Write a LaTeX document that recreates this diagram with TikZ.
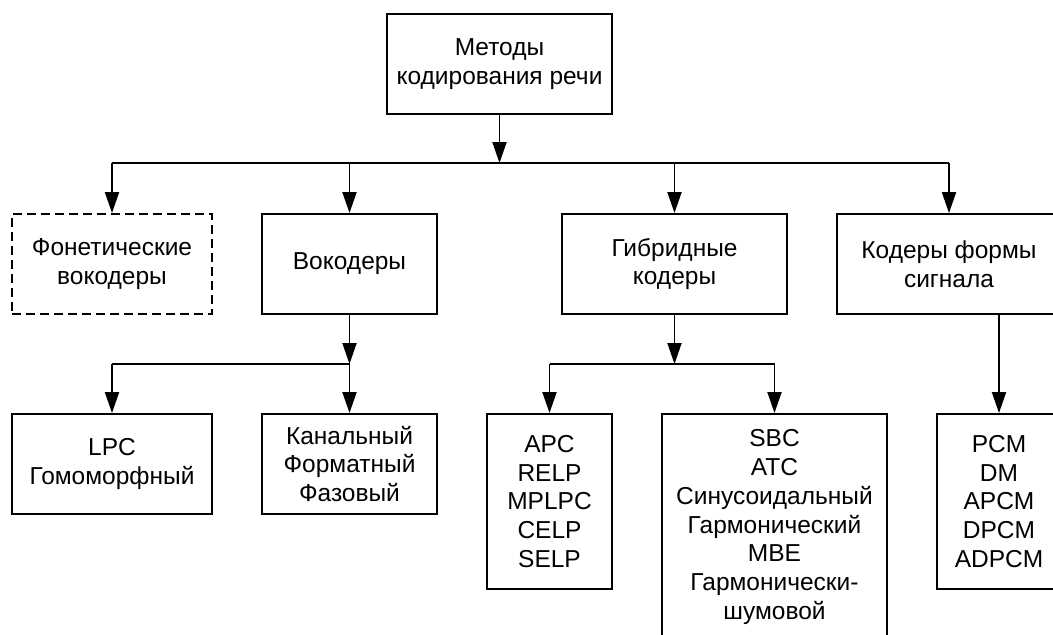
\documentclass[tikz,border=0pt]{standalone}
\usepackage{fontspec}
\setmainfont{Liberation Sans}
\usetikzlibrary{arrows.meta}
\tikzset{
  box/.style={draw, line width=1.9pt, inner sep=0pt, align=center,
    font=\fontsize{24.5}{28.8}\selectfont},
  dbox/.style={box, dash pattern=on 9pt off 5pt},
  line/.style={line width=1.9pt},
  arr/.style={line, -{Triangle[length=21pt,width=14pt]}}
}
\begin{document}
\begin{tikzpicture}[x=1pt,y=-1pt]
\useasboundingbox[fill=white] (0,0) rectangle (1053,635);
\node[box, minimum width=225, minimum height=100] (top) at (499.5,64) {Методы\\кодирования речи};
\node[dbox, minimum width=200, minimum height=100] (phon) at (112,264) {Фонетические\\вокодеры};
\node[box, minimum width=175, minimum height=100] (voc) at (349.5,264) {Вокодеры};
\node[box, minimum width=225, minimum height=100] (hyb) at (674.5,264) {Гибридные\\кодеры};
\node[box, minimum width=224, minimum height=100] (wav) at (949,264) {Кодеры формы\\сигнала};
\node[box, minimum width=200, minimum height=100] (lpc) at (112,464) {LPC\\Гомоморфный};
\node[box, minimum width=175, minimum height=100] (kan) at (349.5,464) {Канальный\\Форматный\\Фазовый};
\node[box, minimum width=125, minimum height=175] (apc) at (549.5,501.5) {APC\\RELP\\MPLPC\\CELP\\SELP};
\node[box, minimum width=225, minimum height=226] (sbc) at (774.5,527) {SBC\\ATC\\Синусоидальный\\Гармонический\\MBE\\Гармонически-\\шумовой};
\node[box, minimum width=124, minimum height=175] (pcm) at (999,501.5) {PCM\\DM\\APCM\\DPCM\\ADPCM};
\coordinate (b1) at (499.5,163);
\coordinate (b2) at (349.5,364);
\coordinate (b3) at (674.5,364);
% level 1
\draw[arr] (top) -- (b1);
\draw[line] (b1 -| phon) -- (b1 -| wav);
\draw[arr] (b1 -| phon) -- (phon);
\draw[arr] (b1 -| voc) -- (voc);
\draw[arr] (b1 -| hyb) -- (hyb);
\draw[arr] (b1 -| wav) -- (wav);
% vocoders
\draw[arr] (voc) -- (b2);
\draw[line] (lpc |- b2) -- (b2);
\draw[arr] (lpc |- b2) -- (lpc);
\draw[arr] (b2) -- (kan);
% hybrid
\draw[arr] (hyb) -- (b3);
\draw[line] (apc |- b3) -- (sbc |- b3);
\draw[arr] (apc |- b3) -- (apc);
\draw[arr] (sbc |- b3) -- (sbc);
% waveform
\draw[arr] (pcm |- wav.south) -- (pcm);
\end{tikzpicture}
\end{document}
